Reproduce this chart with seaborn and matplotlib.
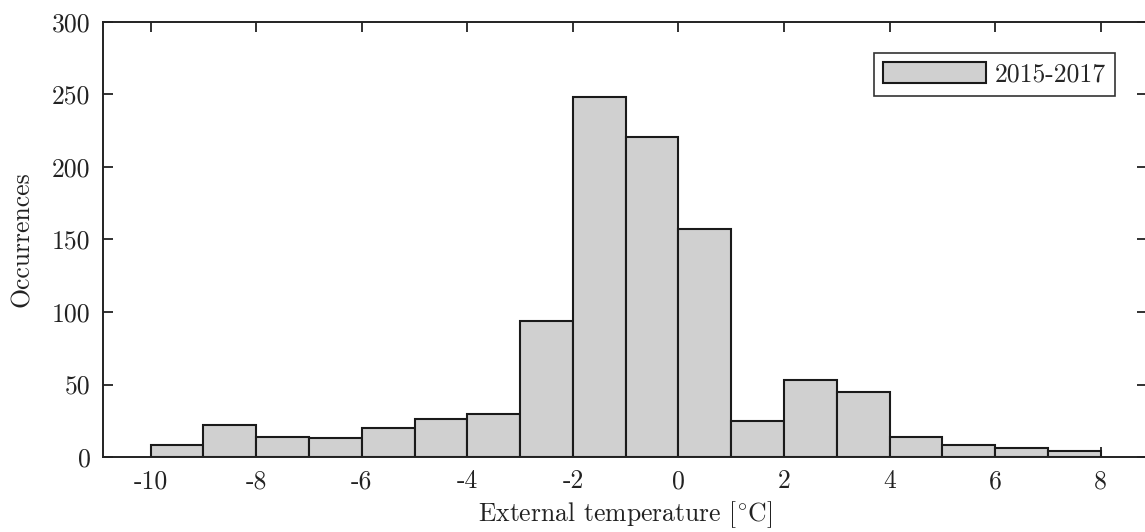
import numpy as np
import pandas as pd
import matplotlib
matplotlib.use("Agg")
import matplotlib.pyplot as plt
import seaborn as sns

# Data: histogram of external temperature, 1 degC bins from -10 to 8
bin_edges = list(range(-10, 9))
counts = [8, 22, 14, 13, 20, 26, 30, 94, 248, 221, 157, 25, 53, 45, 14, 8, 6, 4]
series_label = "2015-2017"
x_ticks = list(range(-10, 9, 2))
y_ticks = list(range(0, 301, 50))

bin_centers = [(a + b) / 2 for a, b in zip(bin_edges[:-1], bin_edges[1:])]
df = pd.DataFrame({"temp": bin_centers, "count": counts})

sns.set_style("ticks")
plt.rcParams["font.family"] = ["cmr10", "DejaVu Serif"]
plt.rcParams["mathtext.fontset"] = "cm"
plt.rcParams["axes.unicode_minus"] = False
plt.rcParams["axes.formatter.use_mathtext"] = False

fs = 18.5
fig = plt.figure(figsize=(11.45, 5.32), dpi=100)
ax = fig.add_axes([103 / 1145, 75 / 532, 1044 / 1145, 435 / 532])

sns.histplot(data=df, x="temp", weights="count", bins=bin_edges,
             color="#d0d0d0", edgecolor="#1a1a1a", linewidth=1.5, alpha=1,
             ax=ax)

ax.set_xlim(-10.904, 8.877)
ax.set_ylim(0, 300)
ax.set_xticks(x_ticks)
ax.set_xticklabels([str(v) for v in x_ticks])
ax.set_yticks(y_ticks)
ax.set_yticklabels([str(v) for v in y_ticks])

ax.tick_params(axis="both", which="both", direction="in", top=True, right=True,
               length=7.5, width=1.3, color="#222222", labelsize=fs,
               labelcolor="#222222")
ax.tick_params(axis="y", pad=9)
ax.tick_params(axis="x", pad=9)
for s in ax.spines.values():
    s.set_linewidth(1.4)
    s.set_color("#222222")

ax.set_xlabel(r"External temperature [$^{\circ}$C]", fontsize=fs, color="#222222", labelpad=4)
ax.set_ylabel("Occurrences", fontsize=fs, color="#222222", labelpad=13)

handle = ax.patches[0]
leg = ax.legend([handle], [series_label], loc="upper right",
                bbox_to_anchor=(0.9693, 0.9287), borderaxespad=0,
                fontsize=fs, frameon=True, fancybox=False, framealpha=1,
                edgecolor="#333333", handlelength=4.0, handleheight=0.9,
                handletextpad=0.35, borderpad=0.35)
leg.get_frame().set_linewidth(1.2)

fig.savefig("out.png", dpi=100)
